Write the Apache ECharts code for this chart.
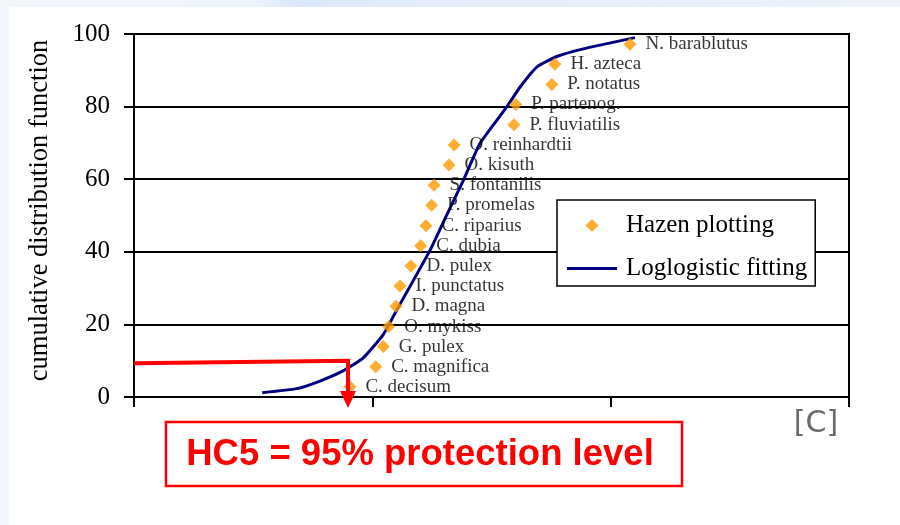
<!DOCTYPE html>
<html>
<head>
<meta charset="utf-8">
<script src="https://cdn.jsdelivr.net/npm/echarts@6/dist/echarts.min.js"></script>
<style>
  html, body { margin: 0; padding: 0; }
  body {
    width: 900px; height: 525px; position: relative; overflow: hidden;
    background: linear-gradient(90deg, #f3f7fc 0%, #eef4fc 28%, #d9e7f8 33%, #e3edf9 45%, #e6eefa 60%, #eef3fb 100%);
  }
  #panel {
    position: absolute; left: 9px; top: 7px; right: 0; bottom: 0;
    background: #ffffff;
  }
  #chart { position: absolute; left: 0; top: 0; width: 900px; height: 525px; }
</style>
</head>
<body>
<div id="panel"></div>
<div id="chart"></div>
<script>
// Species sensitivity distribution: toxicity per species (log concentration units)
const species = [
  'C. decisum', 'C. magnifica', 'G. pulex', 'O. mykiss', 'D. magna',
  'I. punctatus', 'D. pulex', 'C. dubia', 'C. riparius', 'P. promelas',
  'S. fontanilis', 'O. kisuth', 'O. reinhardtii', 'P. fluviatilis',
  'P. partenog.', 'P. notatus', 'H. azteca', 'N. barablutus'
];
const logConc = [
  0.906, 1.014, 1.046, 1.069, 1.099,
  1.116, 1.162, 1.203, 1.225, 1.249,
  1.259, 1.322, 1.343, 1.594,
  1.602, 1.753, 1.766, 2.081
];
// Hazen plotting positions (%)
const hazenCdf = [
  2.8, 8.3, 13.9, 19.4, 25.0,
  30.6, 36.1, 41.7, 47.2, 52.8,
  58.3, 63.9, 69.4, 75.0,
  80.6, 86.1, 91.7, 97.2
];
// Fitted log-logistic curve
const fitX = [0.538, 0.683, 0.780, 0.877, 0.961, 1.045, 1.102, 1.242, 1.312, 1.382, 1.452, 1.564, 1.620, 1.690, 1.774, 1.885, 2.102];
const fitY = [1.2, 2.3, 4.4, 7.2, 10.7, 17.1, 23.9, 40.4, 50.1, 59.7, 69.9, 79.9, 85.4, 90.9, 93.8, 95.9, 99.0];

// HC5 read-off on the fitted curve
const hc5X = 0.898;
const hc5LevelLeft = 9.3;
const hc5LevelRight = 10.0;
const arrowTipY = -3.0;

const yTicks = [0, 20, 40, 60, 80, 100];

const serif = 'Liberation Serif, Times New Roman, serif';
const chart = echarts.init(document.getElementById('chart'), null, { renderer: 'canvas' });

// Legend icons drawn in a 50x13 box: a centred diamond, and a flat line
const diamondIcon = 'path://M0,6.5 L0,6.5 M50,6.5 L50,6.5 M25,0 L31.5,6.5 L25,13 L18.5,6.5 Z';
const lineIcon = 'path://M0,5 H50 V8 H0 Z M0,0 L0,0 M0,13 L0,13';

const option = {
  backgroundColor: 'transparent',
  animation: false,
  grid: {
    left: 134, right: 51, top: 34, bottom: 128,
    show: true, borderColor: '#000', borderWidth: 2, backgroundColor: 'transparent'
  },
  legend: {
    left: 557, top: 200,
    orient: 'vertical',
    backgroundColor: '#fff',
    borderColor: '#000',
    borderWidth: 1.5,
    padding: [13, 8, 5, 10],
    itemGap: 18,
    itemWidth: 50,
    itemHeight: 13,
    textStyle: { fontFamily: serif, fontSize: 25, color: '#000', padding: [0, 0, 0, 4] },
    data: [
      { name: 'Hazen plotting', icon: diamondIcon, itemStyle: { color: '#ff9900' } },
      { name: 'Loglogistic fitting', icon: lineIcon, itemStyle: { color: '#000080' } }
    ]
  },
  xAxis: {
    type: 'value', min: 0, max: 3, interval: 1,
    axisLine: { show: true, onZero: false, lineStyle: { color: '#000', width: 2 } },
    axisTick: { show: true, length: 10, lineStyle: { color: '#000', width: 2 } },
    axisLabel: { show: false },
    splitLine: { show: false }
  },
  yAxis: {
    type: 'value', min: 0, max: 100, interval: 20,
    name: 'cumulative distribution function',
    nameLocation: 'middle',
    nameGap: 80,
    nameTextStyle: { fontFamily: serif, fontSize: 26.5, color: '#000', padding: [0, 0, 0, 10] },
    axisLine: { show: true, lineStyle: { color: '#000', width: 2 } },
    axisTick: { show: true, length: 10, lineStyle: { color: '#000', width: 2 } },
    axisLabel: {
      fontFamily: serif, fontSize: 25, color: '#000', margin: 24,
      formatter: v => (yTicks.indexOf(v) >= 0 ? String(v) : '')
    },
    splitLine: { show: true, lineStyle: { color: '#000', width: 2 } }
  },
  series: [
    {
      name: 'Loglogistic fitting',
      type: 'line',
      data: fitX.map((x, i) => [x, fitY[i]]),
      symbol: 'none',
      smooth: 0.15,
      lineStyle: { color: '#000080', width: 3 },
      itemStyle: { color: '#000080' },
      z: 3
    },
    {
      name: 'Hazen plotting',
      type: 'scatter',
      data: species.map((s, i) => ({ name: s, value: [logConc[i], hazenCdf[i]] })),
      symbol: 'diamond',
      symbolSize: 13,
      itemStyle: { color: '#ff9900' },
      label: {
        show: true, position: 'right', distance: 9,
        formatter: p => p.name,
        fontFamily: serif, fontSize: 19, color: '#000'
      },
      z: 4
    }
  ]
};
chart.setOption(option);

// HC5 annotation: red read-off line with arrow, and caption box
const pL = chart.convertToPixel({ gridIndex: 0 }, [0, hc5LevelLeft]);
const pR = chart.convertToPixel({ gridIndex: 0 }, [hc5X, hc5LevelRight]);
const pTip = chart.convertToPixel({ gridIndex: 0 }, [hc5X, arrowTipY]);
const headH = 17, headW = 16;
chart.setOption({
  graphic: [
    {
      type: 'polyline', z: 10,
      shape: { points: [pL, pR, [pR[0], pTip[1] - headH + 1]] },
      style: { stroke: '#ff0000', lineWidth: 4, fill: null, lineJoin: 'miter' }
    },
    {
      type: 'polygon', z: 10,
      shape: { points: [[pR[0] - headW / 2, pTip[1] - headH], [pR[0] + headW / 2, pTip[1] - headH], [pR[0], pTip[1]]] },
      style: { fill: '#ff0000' }
    },
    {
      type: 'rect', z: 10,
      shape: { x: 166, y: 422, width: 516, height: 64 },
      style: { fill: '#fff', stroke: '#ff0000', lineWidth: 2.5 }
    },
    {
      type: 'text', z: 11,
      x: 420, y: 455,
      style: {
        text: 'HC5 = 95% protection level',
        fill: '#ff0000',
        font: 'bold 36.5px "Liberation Sans", Arial, sans-serif',
        align: 'center', verticalAlign: 'middle'
      }
    },
    {
      type: 'text', z: 11,
      x: 816, y: 424,
      style: {
        text: '[C]',
        fill: '#6b6b6b',
        font: '30px "DejaVu Sans", Verdana, sans-serif',
        align: 'center', verticalAlign: 'middle'
      }
    }
  ]
});
</script>
</body>
</html>
